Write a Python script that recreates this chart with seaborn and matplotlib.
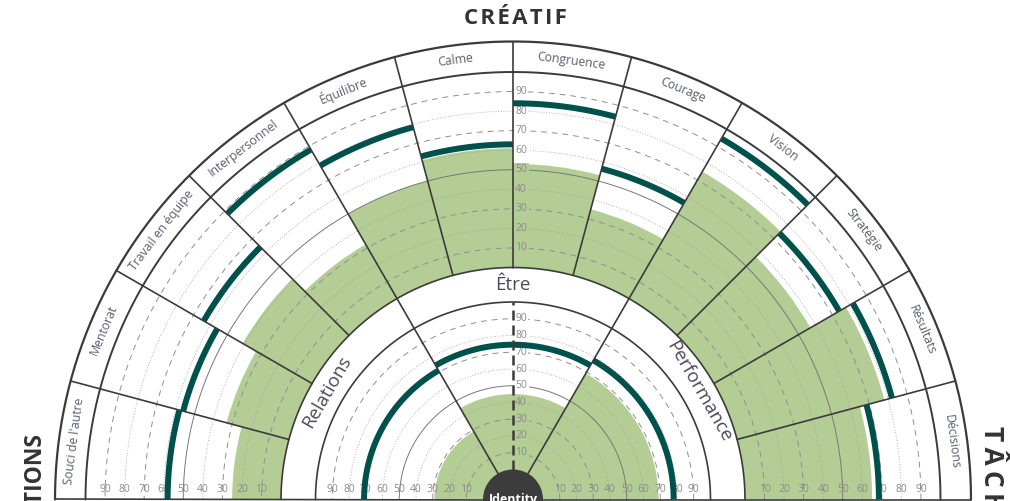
import numpy as np
import pandas as pd
import matplotlib
matplotlib.use("Agg")
import matplotlib.pyplot as plt
import matplotlib.transforms as mtransforms
import seaborn as sns

# valeurs (0-100)
outer_cats = ["Souci de l'autre", "Mentorat", "Travail en équipe", "Interpersonnel",
              "Équilibre", "Calme", "Congruence", "Courage", "Vision", "Stratégie",
              "Résultats", "Décisions"]
outer_score = [25, 33, 41, 32, 50, 61, 53, 35, 75, 57, 78, 65]
outer_norm = [58, 56, 64, 88, 78.5, 63, 84, 56.5, 94.5, 74, 82, 68.5]

inner_cats = ["Relations", "Être", "Performance"]
inner_score = [29, 45, 69]
inner_norm = [71, 74.5, 78]

tick_vals = [10, 20, 30, 40, 50, 60, 70, 80, 90]
titre_haut = "CRÉATIF"
titre_gauche = "RELATIONS"
titre_droite = "TÂCHES"
centre_txt = "Identity"

sns.set_style("white")
plt.rcParams['font.family'] = ['Open Sans', 'DejaVu Sans']

GREEN = '#b4cd95'
TEAL = '#00514b'
LINE = '#3b3b3b'
GRID = '#8e8e8e'
TICK = '#8a8a8a'
TXT = '#5a5d6e'

# rayons en pixels
R_ID = 30
R_IN0, R_IN1 = 30, 197.5
R_OUT0, R_OUT1 = 232, 427.5
R_LBL = 458


def r_in(v):
    return R_IN0 + (R_IN1 - R_IN0) * np.asarray(v, dtype=float) / 100


def r_out(v):
    return R_OUT0 + (R_OUT1 - R_OUT0) * np.asarray(v, dtype=float) / 100


def espacer(s, sep='\u2009'):
    # petit interlettrage pour les titres
    return sep.join(s)


W, H = 1010, 501
fig = plt.figure(figsize=(W / 100, H / 100), dpi=100)
RMAX = 470
cx, cy = 513, 1.5
ax = fig.add_axes([(cx - RMAX) / W, (cy - RMAX) / H, 2 * RMAX / W, 2 * RMAX / H],
                  projection='polar')
ax.set_axis_off()

# secteurs
th_out = np.deg2rad(180 - 7.5 - 15 * np.arange(len(outer_cats)))
w_out = np.deg2rad(15)
th_in = np.deg2rad(180 - 30 - 60 * np.arange(len(inner_cats)))
w_in = np.deg2rad(60)

# barres vertes (score)
ax.bar(th_out, r_out(outer_score) - R_OUT0, width=w_out, bottom=R_OUT0,
       color=GREEN, linewidth=0, zorder=1)
ax.bar(th_in, r_in(inner_score), width=w_in, bottom=0, color=GREEN, linewidth=0, zorder=1)

# cercles de grille
full = np.linspace(0, np.pi, 500)
for v in tick_vals:
    if v == 50:
        kw = dict(ls='-', lw=0.7, color='#777777')
    elif v % 20 == 10:
        kw = dict(ls=(0, (6, 5)), lw=0.7, color=GRID)
    else:
        kw = dict(ls=(0, (1, 2.2)), lw=0.6, color='#9a9a9a')
    for rf in (r_in, r_out):
        ax.plot(full, np.full_like(full, rf(v)), zorder=2, **kw)

# arcs teal (norme) avec seaborn
rows = []
for t, c, v in zip(th_out, outer_cats, outer_norm):
    tt = np.linspace(t - w_out / 2, t + w_out / 2, 40)
    rows.append(pd.DataFrame({'theta': tt, 'r': float(r_out(v)), 'seg': 'o_' + c}))
for t, c, v in zip(th_in, inner_cats, inner_norm):
    tt = np.linspace(t - w_in / 2, t + w_in / 2, 120)
    rows.append(pd.DataFrame({'theta': tt, 'r': float(r_in(v)), 'seg': 'i_' + c}))
arcs = pd.concat(rows, ignore_index=True)
sns.lineplot(data=arcs, x='theta', y='r', units='seg', estimator=None, sort=False,
             color=TEAL, lw=4.3, legend=False, ax=ax, zorder=4,
             solid_capstyle='butt')

# lignes de secteurs
for a in range(0, 181, 15):
    r0 = R_ID if a % 60 == 0 else R_OUT0
    ax.plot([np.deg2rad(a)] * 2, [r0, R_LBL], color=LINE, lw=1.2, zorder=5)

# cercles de structure
for rr, lw in ((R_IN1, 1.2), (R_OUT0, 1.2), (R_OUT1, 1.4), (R_LBL, 1.6)):
    ax.plot(full, np.full_like(full, rr), color=LINE, lw=lw, zorder=5)

# axe vertical intérieur
ax.plot([np.pi / 2] * 2, [R_ID, R_IN1], color=LINE, lw=1.8, ls=(0, (4, 2)), zorder=5)

# cercle Identity
ax.bar(0, R_ID, width=2 * np.pi, bottom=0, color='#3c3c3c', linewidth=0, zorder=6)
ax.text(0, 0, centre_txt, ha='center', va='center', color='white', fontsize=9,
        fontweight='bold', zorder=7)

# étiquettes de graduation
off_up = mtransforms.offset_copy(ax.transData, fig=fig, x=0, y=10, units='dots')
off_right = mtransforms.offset_copy(ax.transData, fig=fig, x=8, y=0, units='dots')
score_vert_in = inner_score[inner_cats.index("Être")]
score_vert_out = outer_score[outer_cats.index("Congruence")]
for v in tick_vals:
    for rf in (r_in, r_out):
        for th in (0, np.pi):
            ax.text(th, rf(v), str(v), transform=off_up, ha='center', va='center',
                    fontsize=7.5, color=TICK, zorder=3)
    for rf, sc in ((r_in, score_vert_in), (r_out, score_vert_out)):
        fond = GREEN if v < sc else 'white'
        ax.text(np.pi / 2, rf(v), str(v), transform=off_right, ha='center',
                va='center', fontsize=7.5, color=TICK, zorder=3,
                bbox=dict(boxstyle='square,pad=0.15', fc=fond, ec='none'))

# étiquettes des catégories
r_lab = (R_OUT1 + R_LBL) / 2
for t, c in zip(th_out, outer_cats):
    ax.text(t, r_lab, c, rotation=np.rad2deg(t) - 90, rotation_mode='anchor',
            ha='center', va='center', fontsize=8.8, color=TXT, zorder=6)
r_lab_in = (R_IN1 + R_OUT0) / 2
for t, c in zip(th_in, inner_cats):
    ax.text(t, r_lab_in, c, rotation=np.rad2deg(t) - 90, rotation_mode='anchor',
            ha='center', va='center', fontsize=13.5, color='#4a4a5a', zorder=6)

ax.set_ylim(0, RMAX)
ax.set_xlabel('')
ax.set_ylabel('')

# titres de groupes
fig.text(515 / W, 1 - 18 / H, espacer(titre_haut, '\u200a'), ha='center', va='center',
         fontsize=16, fontweight='bold', color='#333333')
fig.text(34 / W, 1 - 432 / H, titre_gauche, rotation=90, rotation_mode='anchor',
         ha='right', va='center', fontsize=16.5, fontweight='bold', color='#333333')
fig.text(991 / W, 1 - 426 / H, espacer(titre_droite), rotation=-90, rotation_mode='anchor',
         ha='left', va='center', fontsize=19, fontweight='bold', color='#333333')

fig.savefig('out.png', dpi=100, facecolor='white')
